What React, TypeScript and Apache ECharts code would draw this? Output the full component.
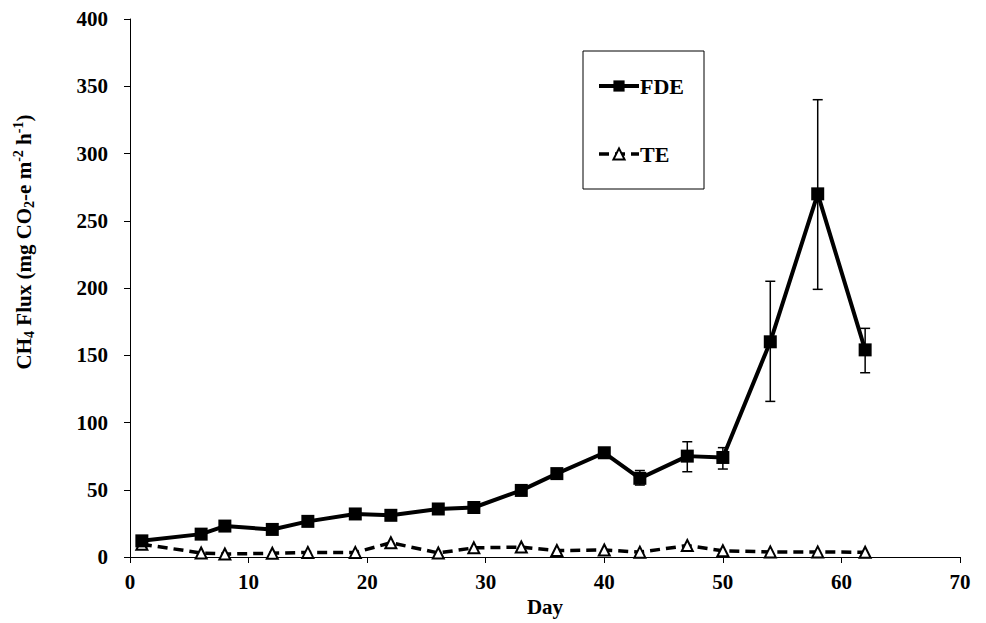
import React, { useEffect, useRef } from "react";
import * as echarts from "echarts";

const days = [1, 6, 8, 12, 15, 19, 22, 26, 29, 33, 36, 40, 43, 47, 50, 54, 58, 62];
const fdeValues = [12, 17, 23, 20.5, 26.5, 32, 31, 35.7, 36.8, 49.5, 62, 77.5, 58.5, 75, 74, 160, 270, 154];
const teValues = [9.5, 3, 2.2, 2.8, 3.4, 3.4, 10.6, 3, 6.8, 7.4, 4.8, 5.2, 3.6, 8.5, 4.6, 3.8, 3.8, 3.5];
const errDays = [43, 47, 50, 54, 58, 62];
const errLow = [53.5, 63.4, 65.4, 115.7, 199, 137];
const errHigh = [64.3, 85.7, 81.3, 205, 340, 170];
const yTicks = [0, 50, 100, 150, 200, 250, 300, 350, 400];
const xTicks = [0, 10, 20, 30, 40, 50, 60, 70];

const FONT = "'Liberation Serif', 'Times New Roman', serif";

export default function App() {
  const ref = useRef<HTMLDivElement>(null);
  useEffect(() => {
    if (!ref.current) return;
    const chart = echarts.init(ref.current, null, { renderer: "svg" });
    const fde = days.map((d, i) => [d, fdeValues[i]]);
    const te = days.map((d, i) => [d, teValues[i]]);
    const err = errDays.map((d, i) => [d, errLow[i], errHigh[i]]);
    chart.setOption({
      animation: false,
      backgroundColor: "#ffffff",
      grid: { left: 130, right: 26, top: 19, bottom: 66, containLabel: false },
      xAxis: {
        type: "value",
        min: xTicks[0],
        max: xTicks[xTicks.length - 1],
        interval: 10,
        name: "Day",
        nameLocation: "middle",
        nameGap: 37,
        nameTextStyle: { fontFamily: FONT, fontWeight: "bold", fontSize: 21, color: "#000" },
        axisLine: { lineStyle: { color: "#000", width: 1 } },
        axisTick: { show: true, length: 6, lineStyle: { color: "#000" } },
        axisLabel: { fontFamily: FONT, fontWeight: "bold", fontSize: 21, color: "#000", margin: 14 },
        splitLine: { show: false },
      },
      yAxis: {
        type: "value",
        min: yTicks[0],
        max: yTicks[yTicks.length - 1],
        interval: 50,
        axisLine: { show: true, lineStyle: { color: "#000", width: 1 } },
        axisTick: { show: true, length: 6, lineStyle: { color: "#000" } },
        axisLabel: { fontFamily: FONT, fontWeight: "bold", fontSize: 21, color: "#000", margin: 22 },
        splitLine: { show: false },
      },
      legend: {
        data: [
          { name: "FDE", lineStyle: { width: 4, color: "#000" } },
          { name: "TE", lineStyle: { width: 3.5, color: "#000", type: [10, 6] } },
        ],
        orient: "vertical",
        left: 583,
        top: 51,
        itemWidth: 40,
        itemHeight: 14,
        itemGap: 46,
        padding: [24, 20, 24, 14],
        borderColor: "#000",
        borderWidth: 1,
        backgroundColor: "#fff",
        lineStyle: { width: 4 },
        textStyle: { fontFamily: FONT, fontWeight: "bold", fontSize: 22, color: "#000", padding: [0, 0, 0, -4] },
      },
      graphic: [
        {
          type: "text",
          x: 24,
          y: 242,
          rotation: Math.PI / 2,
          style: {
            text: "{m|CH}{sub|4}{m| Flux (mg CO}{sub|2}{m|-e m}{sup|-2}{m| h}{sup|-1}{m|)}",
            align: "center",
            verticalAlign: "middle",
            textAlign: "center",
            textVerticalAlign: "middle",
            fill: "#000",
            rich: {
              m: { fontFamily: FONT, fontWeight: "bold", fontSize: 21, lineHeight: 25, fill: "#000", color: "#000" },
              sub: { fontFamily: FONT, fontWeight: "bold", fontSize: 14, lineHeight: 10, verticalAlign: "bottom", fill: "#000", color: "#000" },
              sup: { fontFamily: FONT, fontWeight: "bold", fontSize: 14, lineHeight: 10, verticalAlign: "top", fill: "#000", color: "#000" },
            },
          },
        },
      ],
      series: [
        {
          name: "errors",
          type: "custom",
          z: 1,
          data: err,
          encode: { x: 0, y: [1, 2] },
          renderItem: (params: any, api: any) => {
            const x = api.value(0);
            const lo = api.coord([x, api.value(1)]);
            const hi = api.coord([x, api.value(2)]);
            const cw = 5;
            const st = { stroke: "#000", lineWidth: 1.5 };
            return {
              type: "group",
              children: [
                { type: "line", shape: { x1: lo[0], y1: lo[1], x2: hi[0], y2: hi[1] }, style: st },
                { type: "line", shape: { x1: hi[0] - cw, y1: hi[1], x2: hi[0] + cw, y2: hi[1] }, style: st },
                { type: "line", shape: { x1: lo[0] - cw, y1: lo[1], x2: lo[0] + cw, y2: lo[1] }, style: st },
              ],
            };
          },
        },
        {
          name: "TE",
          type: "line",
          z: 2,
          data: te,
          symbol: "triangle",
          symbolSize: 11,
          lineStyle: { color: "#000", width: 3.5, type: [10, 6] },
          itemStyle: { color: "#fff", borderColor: "#000", borderWidth: 2 },
        },
        {
          name: "FDE",
          type: "line",
          z: 3,
          data: fde,
          symbol: "rect",
          symbolSize: 13,
          lineStyle: { color: "#000", width: 4 },
          itemStyle: { color: "#000", borderColor: "#000", borderWidth: 0 },
        },
      ],
    });
    return () => chart.dispose();
  }, []);
  return <div ref={ref} style={{ width: 986, height: 623, position: "absolute", left: 0, top: 0 }} />;
}
